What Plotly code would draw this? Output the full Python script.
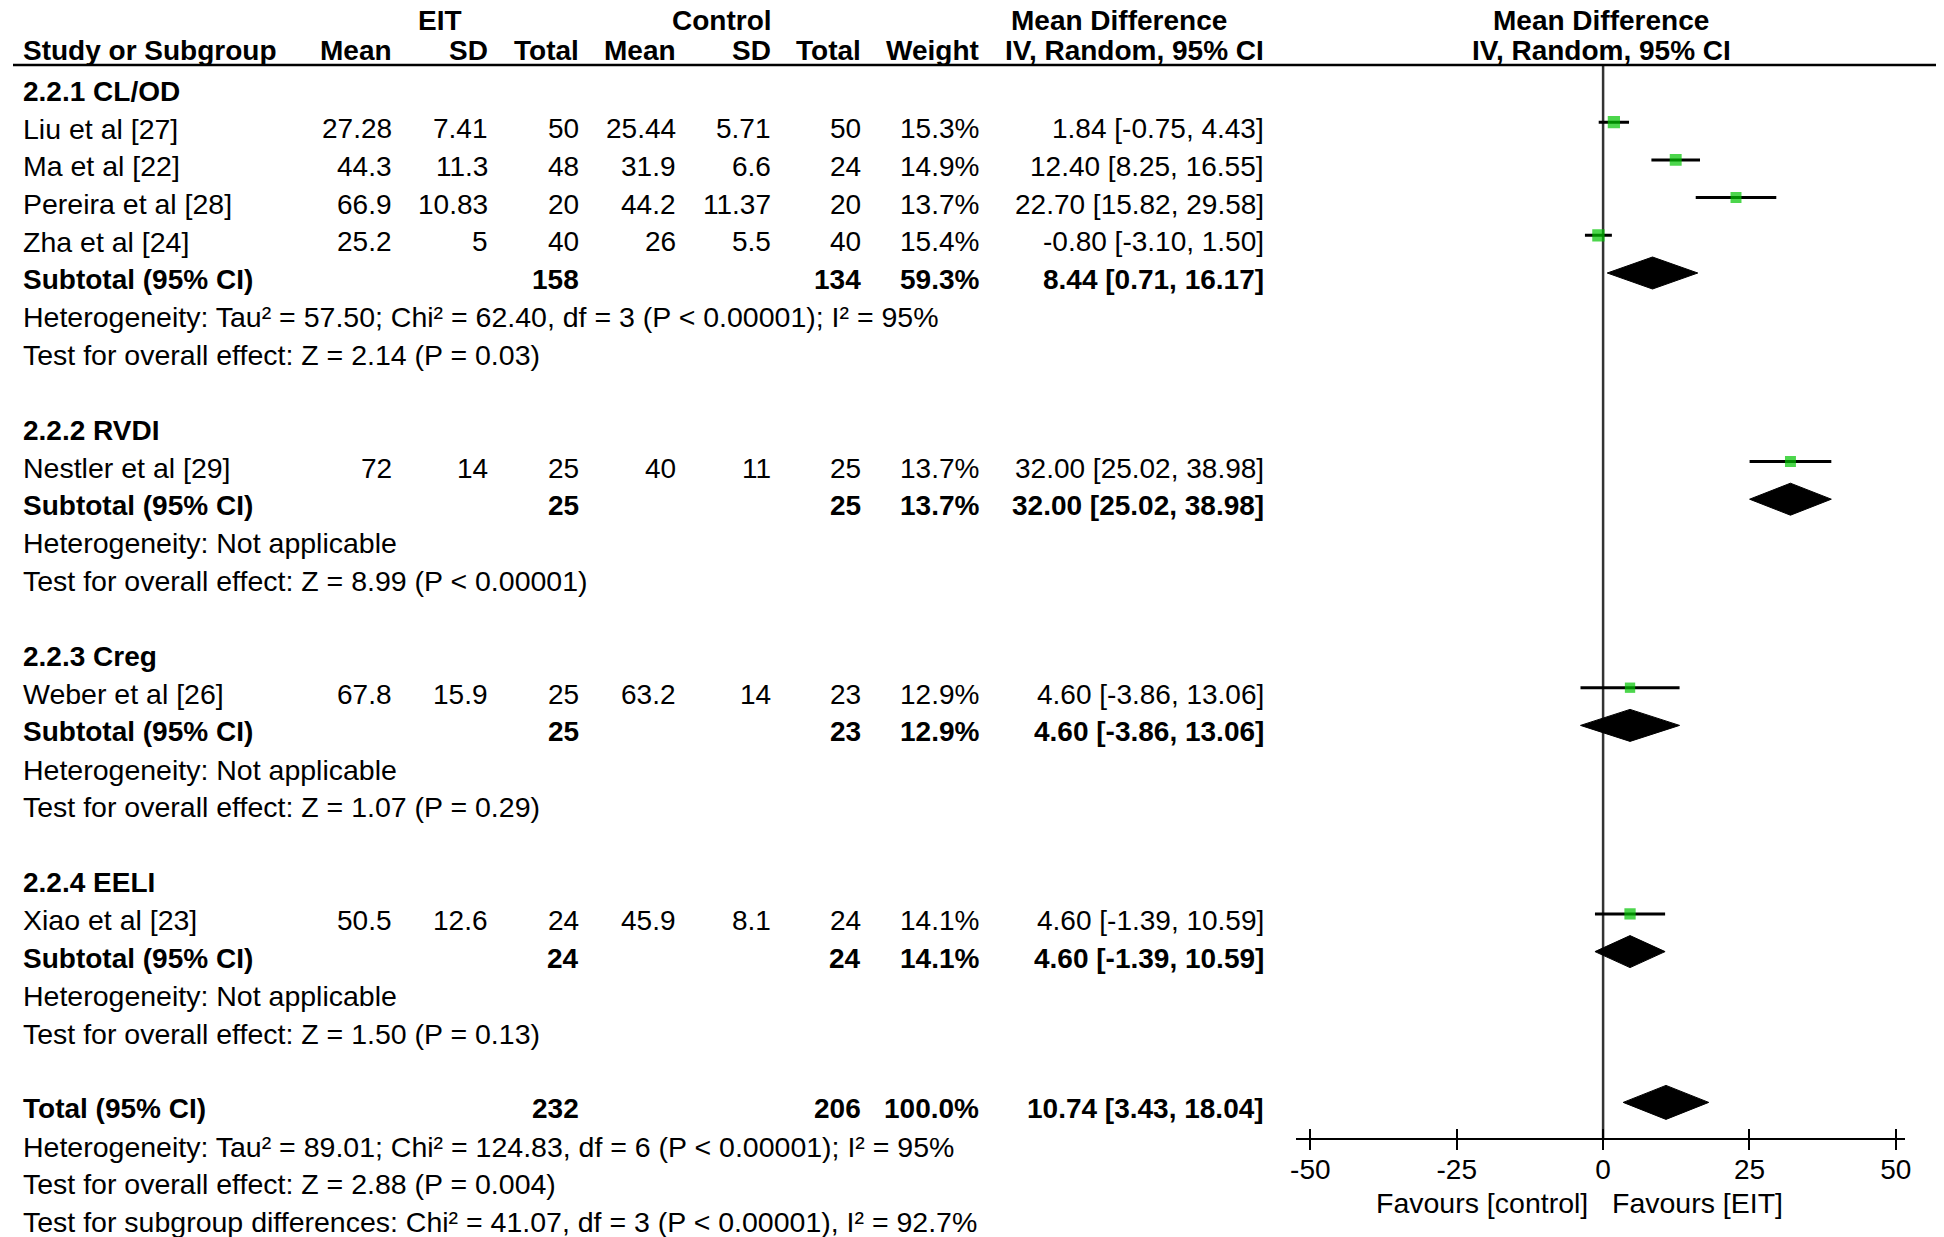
import plotly.graph_objects as go

# data
groups = ["2.2.1 CL/OD", "2.2.2 RVDI", "2.2.3 Creg", "2.2.4 EELI"]

studies = ["Liu et al [27]", "Ma et al [22]", "Pereira et al [28]", "Zha et al [24]",
           "Nestler et al [29]", "Weber et al [26]", "Xiao et al [23]"]
study_group = [0, 0, 0, 0, 1, 2, 3]
eit_mean = [27.28, 44.3, 66.9, 25.2, 72, 67.8, 50.5]
eit_sd = [7.41, 11.3, 10.83, 5, 14, 15.9, 12.6]
eit_n = [50, 48, 20, 40, 25, 25, 24]
ctl_mean = [25.44, 31.9, 44.2, 26, 40, 63.2, 45.9]
ctl_sd = [5.71, 6.6, 11.37, 5.5, 11, 14, 8.1]
ctl_n = [50, 24, 20, 40, 25, 23, 24]
weight = [15.3, 14.9, 13.7, 15.4, 13.7, 12.9, 14.1]
md = [1.84, 12.40, 22.70, -0.80, 32.00, 4.60, 4.60]
md_lo = [-0.75, 8.25, 15.82, -3.10, 25.02, -3.86, -1.39]
md_hi = [4.43, 16.55, 29.58, 1.50, 38.98, 13.06, 10.59]

sub_eit_n = [158, 25, 25, 24]
sub_ctl_n = [134, 25, 23, 24]
sub_weight = [59.3, 13.7, 12.9, 14.1]
sub_md = [8.44, 32.00, 4.60, 4.60]
sub_lo = [0.71, 25.02, -3.86, -1.39]
sub_hi = [16.17, 38.98, 13.06, 10.59]
sub_het = ["Heterogeneity: Tau² = 57.50; Chi² = 62.40, df = 3 (P < 0.00001); I² = 95%",
           "Heterogeneity: Not applicable",
           "Heterogeneity: Not applicable",
           "Heterogeneity: Not applicable"]
sub_test = ["Test for overall effect: Z = 2.14 (P = 0.03)",
            "Test for overall effect: Z = 8.99 (P < 0.00001)",
            "Test for overall effect: Z = 1.07 (P = 0.29)",
            "Test for overall effect: Z = 1.50 (P = 0.13)"]

total_eit_n = 232
total_ctl_n = 206
total_weight = 100.0
total_md = 10.74
total_lo = 3.43
total_hi = 18.04
total_notes = ["Heterogeneity: Tau² = 89.01; Chi² = 124.83, df = 6 (P < 0.00001); I² = 95%",
               "Test for overall effect: Z = 2.88 (P = 0.004)",
               "Test for subgroup differences: Chi² = 41.07, df = 3 (P < 0.00001), I² = 92.7%"]

xticks = [-50, -25, 0, 25, 50]
xtick_text = ["-50", "-25", "0", "25", "50"]

W, H = 1944, 1237
OFF = 8                  # page offset, positions below are screen px
FONT = "Liberation Sans, Arial, sans-serif"
FS = 28                  # bold / numbers
FS_NOTE = 28.5           # plain notes
ROW0, STEP = 91, 37.7    # text centre of first row, row pitch (px)
MARK_OFF = -6.5          # marks sit a bit above the text centre

# column right edges in px
col_x = {"mean1": 393, "sd1": 490, "n1": 582, "mean2": 679, "sd2": 775,
         "n2": 865, "w": 984, "ci": 1271}
LEFT = 24

annotations = []


def txt(x, y, s, anchor="right", bold=False, size=FS):
    shift = {"left": -16, "right": -10, "center": -8}[anchor]
    annotations.append(dict(x=(x + shift) / W, y=y, xref="paper", yref="y",
                            text=("<b>%s</b>" % s) if bold else s,
                            xanchor=anchor, yanchor="middle", showarrow=False,
                            font=dict(family=FONT, size=size, color="black")))


def ci(m, lo, hi):
    return "%.2f [%.2f, %.2f]" % (m, lo, hi)


# headers
HY1, HY2 = 20, 50
txt(438, HY1, "EIT", "center", True)
txt(721, HY1, "Control", "center", True)
txt(1121, HY1, "Mean Difference", "center", True)
txt(1606, HY1, "Mean Difference", "center", True)
txt(LEFT, HY2, "Study or Subgroup", "left", True)
for k, s in [("mean1", "Mean"), ("sd1", "SD"), ("n1", "Total"), ("mean2", "Mean"),
             ("sd2", "SD"), ("n2", "Total"), ("w", "Weight"), ("ci", "IV, Random, 95% CI")]:
    txt(col_x[k], HY2, s, "right", True)
txt(1606, HY2, "IV, Random, 95% CI", "center", True)

# rows
row = 0
study_y, sub_y = [], []
for g, gname in enumerate(groups):
    txt(LEFT, ROW0 + STEP * row, gname, "left", True)
    row += 1
    for i in range(len(studies)):
        if study_group[i] != g:
            continue
        y = ROW0 + STEP * row
        txt(LEFT, y, studies[i], "left", size=FS_NOTE)
        txt(col_x["mean1"], y, str(eit_mean[i]))
        txt(col_x["sd1"], y, str(eit_sd[i]))
        txt(col_x["n1"], y, str(eit_n[i]))
        txt(col_x["mean2"], y, str(ctl_mean[i]))
        txt(col_x["sd2"], y, str(ctl_sd[i]))
        txt(col_x["n2"], y, str(ctl_n[i]))
        txt(col_x["w"], y, "%.1f%%" % weight[i])
        txt(col_x["ci"], y, ci(md[i], md_lo[i], md_hi[i]))
        study_y.append(y + MARK_OFF)
        row += 1
    y = ROW0 + STEP * row
    txt(LEFT, y, "Subtotal (95% CI)", "left", True)
    txt(col_x["n1"], y, str(sub_eit_n[g]), bold=True)
    txt(col_x["n2"], y, str(sub_ctl_n[g]), bold=True)
    txt(col_x["w"], y, "%.1f%%" % sub_weight[g], bold=True)
    txt(col_x["ci"], y, ci(sub_md[g], sub_lo[g], sub_hi[g]), bold=True)
    sub_y.append(y + MARK_OFF)
    row += 1
    txt(LEFT, ROW0 + STEP * row, sub_het[g], "left", size=FS_NOTE)
    row += 1
    txt(LEFT, ROW0 + STEP * row, sub_test[g], "left", size=FS_NOTE)
    row += 2

y = ROW0 + STEP * row
txt(LEFT, y, "Total (95% CI)", "left", True)
txt(col_x["n1"], y, str(total_eit_n), bold=True)
txt(col_x["n2"], y, str(total_ctl_n), bold=True)
txt(col_x["w"], y, "%.1f%%" % total_weight, bold=True)
txt(col_x["ci"], y, ci(total_md, total_lo, total_hi), bold=True)
total_y = y + MARK_OFF
for note in total_notes:
    row += 1
    txt(LEFT, ROW0 + STEP * row, note, "left", size=FS_NOTE)

fig = go.Figure()

# study squares with CI whiskers
fig.add_trace(go.Scatter(
    x=md, y=study_y, mode="markers",
    marker=dict(symbol="square", color="#00c400", size=[w * 0.8 for w in weight], line=dict(width=0)),
    error_x=dict(type="data", symmetric=False,
                 array=[h - m for h, m in zip(md_hi, md)],
                 arrayminus=[m - l for m, l in zip(md, md_lo)],
                 width=0, thickness=3, color="black"),
    showlegend=False, hoverinfo="skip"))


def diamond(m, lo, hi, yc, half):
    fig.add_trace(go.Scatter(x=[lo, m, hi, m, lo], y=[yc, yc - half, yc, yc + half, yc],
                             mode="lines", fill="toself", fillcolor="black",
                             line=dict(color="black", width=1), showlegend=False, hoverinfo="skip"))


for g in range(len(groups)):
    diamond(sub_md[g], sub_lo[g], sub_hi[g], sub_y[g], 16)
diamond(total_md, total_lo, total_hi, total_y, 17)

axis_y = 1139
dom = [(1293 - 2.5) / W, (1906 - 2.5) / W]
rng = [-52.53, 51.52]

# favours labels
txt(1597, 1203, "Favours [control]", "right", size=FS_NOTE)
txt(1623, 1203, "Favours [EIT]", "left", size=FS_NOTE)

fig.update_layout(
    width=W, height=H, margin=dict(l=0, r=0, t=0, b=0),
    paper_bgcolor="white", plot_bgcolor="white",
    xaxis=dict(domain=dom, range=rng, anchor="free", position=1 - (axis_y - OFF) / H,
               tickvals=xticks, ticktext=xtick_text, ticks="outside", ticklen=10, tickwidth=2,
               tickcolor="black", ticklabelstandoff=-5,
               showline=True, linewidth=2, linecolor="black", showgrid=False, zeroline=False,
               tickfont=dict(family=FONT, size=FS, color="black")),
    xaxis2=dict(domain=dom, range=rng, anchor="free", position=1 - (axis_y - OFF) / H, overlaying="x",
                tickvals=xticks, ticks="inside", ticklen=10, tickwidth=2, tickcolor="black",
                showticklabels=False, showline=False, showgrid=False, zeroline=False),
    yaxis=dict(domain=[0, 1], range=[H + OFF, OFF], visible=False),
    annotations=annotations,
    shapes=[
        dict(type="line", xref="paper", yref="y", x0=0, x1=1, y0=65, y1=65,
             line=dict(color="black", width=2.5)),
        dict(type="line", xref="x", yref="y", x0=0, x1=0, y0=65, y1=axis_y,
             line=dict(color="#333333", width=2.5), layer="below"),
    ],
)
# empty trace so xaxis2 is drawn
fig.add_trace(go.Scatter(x=[None], y=[None], xaxis="x2", showlegend=False))

fig.write_html("out.html")
